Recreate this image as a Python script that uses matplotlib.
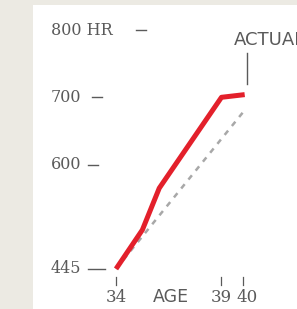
import matplotlib
matplotlib.use("Agg")
import matplotlib.pyplot as plt
from matplotlib.patches import Rectangle
import matplotlib.transforms as mtransforms

# data
actual_age = [34, 35.25, 36.05, 39, 40.1]
actual_hr = [445, 503, 565, 700, 704]
trend_age = [34, 40]
trend_hr = [445, 677]

y_ticks = [800, 700, 600, 445]
y_labels = ['800 HR', '700', '600', '445']
x_ticks = [34, 39, 40]
x_labels = ['34', '39', '40']

grey = '#5a5a5a'
W, H = 297, 309

fig = plt.figure(figsize=(2.97, 3.09), dpi=100)
fig.patch.set_facecolor('white')
# beige border strips on the left and top
fig.patches.append(Rectangle((0, 0), 33 / W, 1, transform=fig.transFigure,
                             facecolor='#eceae3', edgecolor='none', zorder=0))
fig.patches.append(Rectangle((0, 1 - 5 / H), 1, 5 / H, transform=fig.transFigure,
                             facecolor='#eceae3', edgecolor='none', zorder=0))

ax = fig.add_axes([0, 0, 1, 1])
ax.set_facecolor('none')
ax.set_xlim(28.5, 42.58)
ax.set_ylim(385.4, 844.6)
ax.axis('off')

ax.plot(trend_age, trend_hr, color='#a8a8a8', lw=1.8, dashes=(2.2, 2.4), zorder=2)
ax.plot(actual_age, actual_hr, color='#e3202b', lw=3.6, solid_capstyle='butt',
        solid_joinstyle='round', zorder=3)

# y labels, left aligned near the panel edge, with dash ticks after them
trans_y = mtransforms.blended_transform_factory(fig.transFigure, ax.transData)
dash_x = [(136, 146), (92, 102), (88, 98), (88, 105)]
for v, lab, (d0, d1) in zip(y_ticks, y_labels, dash_x):
    ax.text(51 / W, v, lab, transform=trans_y, ha='left', va='center',
            family='DejaVu Serif', fontsize=11.5, color=grey)
    ax.plot([d0 / W, d1 / W], [v, v], transform=trans_y, color=grey, lw=1.0)

# x ticks and labels
trans_x = mtransforms.blended_transform_factory(ax.transData, fig.transFigure)
for a, lab in zip(x_ticks, x_labels):
    ax.plot([a, a], [1 - 277 / H, 1 - 285 / H], transform=trans_x,
            color=grey, lw=0.9, clip_on=False)
    ax.text(a + (0.2 if a == 40 else 0), 1 - 297 / H, lab, transform=trans_x,
            ha='center', va='center', family='DejaVu Serif', fontsize=12, color=grey)
ax.text(36.6, 1 - 297 / H, 'AGE', transform=trans_x, ha='center', va='center',
        family='DejaVu Sans', fontsize=12.5, color=grey)

# annotation for the actual curve
ax.plot([40.2, 40.2], [720, 766], color=grey, lw=1.0)
ax.text(39.6, 785, 'ACTUAL', ha='left', va='center', family='DejaVu Sans',
        fontsize=13, color=grey, clip_on=False)

fig.savefig('out.png', dpi=100)
